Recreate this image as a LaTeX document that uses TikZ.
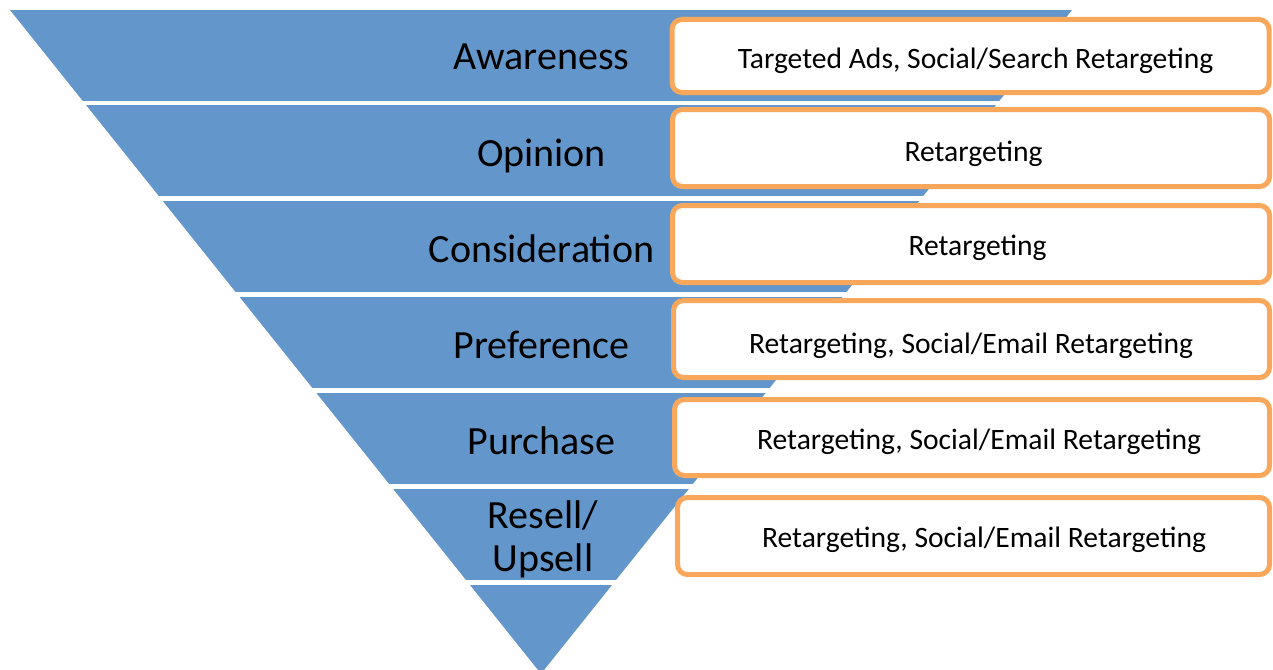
\documentclass[tikz,border=0pt]{standalone}
\usepackage{fontspec}
\setmainfont{Carlito}
\definecolor{funnelblue}{HTML}{6396CA}
\definecolor{boxorange}{HTML}{F9A75B}
\tikzset{
  band/.style={fill=funnelblue},
  stage/.style={anchor=base, inner sep=0pt, text=black, font=\fontsize{40}{43}\selectfont, align=center},
  tactic/.style={draw=boxorange, line width=5pt, fill=white, rounded corners=10pt, inner sep=0pt},
  tactictext/.style={anchor=base, inner sep=0pt, text=black, font=\fontsize{29.6}{34}\selectfont},
}
\begin{document}
\begin{tikzpicture}[x=1pt, y=-1pt]
\useasboundingbox (0,0) rectangle (1273,669);
% funnel: inverted triangle cut into bands
\begin{scope}
  \clip (10,10) -- (1072,10) -- (541,673.75) -- cycle;
  \foreach \t in {10,105,201,297,393,489,585}
    \fill[band] (0,\t) rectangle (1273,\t+91);
\end{scope}
% stage names
\node[stage] (awareness) at (541.5,69) {Awareness};
\node[stage] (opinion) at (541.5,166) {Opinion};
\node[stage] (consideration) at (541.5,262) {Consideration};
\node[stage] (preference) at (541.5,358) {Preference};
\node[stage] (purchase) at (541.5,454) {Purchase};
\node[stage] (resell) at (543,571) {Resell/\\Upsell};
% tactic boxes
\node[tactic, minimum width=597pt, minimum height=73pt] (b1) at (970.5,56) {};
\node[tactic, minimum width=597pt, minimum height=77pt] (b2) at (971,148) {};
\node[tactic, minimum width=597pt, minimum height=77pt] (b3) at (971,244) {};
\node[tactic, minimum width=596pt, minimum height=77pt] (b4) at (971.5,339) {};
\node[tactic, minimum width=595pt, minimum height=76pt] (b5) at (972,437.5) {};
\node[tactic, minimum width=592pt, minimum height=77pt] (b6) at (973.5,536) {};
\node[tactictext] (t1) at (975.5,68) {Targeted Ads, Social/Search Retargeting};
\node[tactictext] (t2) at (973.5,161) {Retargeting};
\node[tactictext] (t3) at (977.5,255) {Retargeting};
\node[tactictext] (t4) at (971,353) {Retargeting, Social/Email Retargeting};
\node[tactictext] (t5) at (979,449) {Retargeting, Social/Email Retargeting};
\node[tactictext] (t6) at (984,547) {Retargeting, Social/Email Retargeting};
\end{tikzpicture}
\end{document}
